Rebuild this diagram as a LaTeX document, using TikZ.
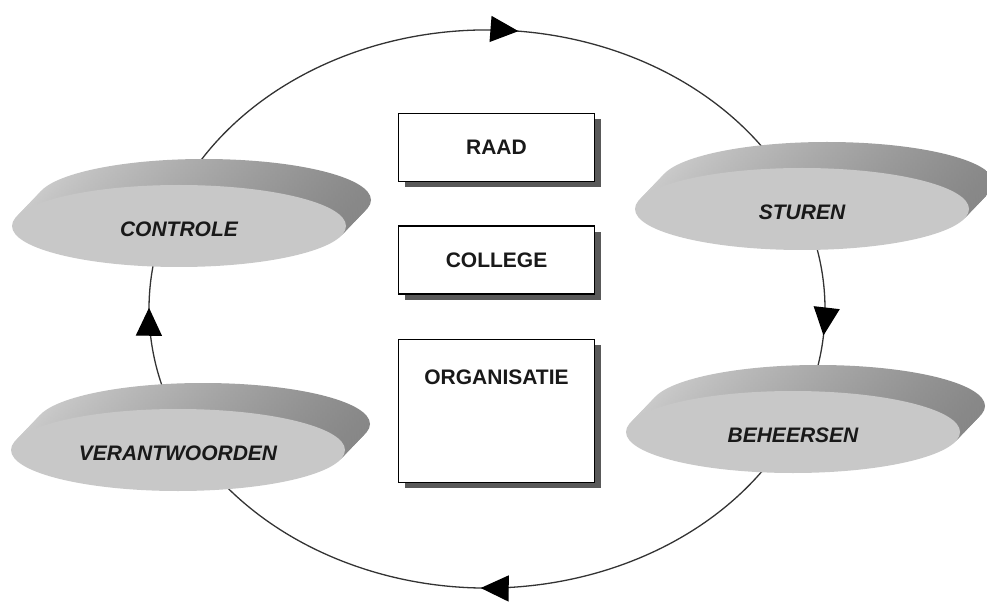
\documentclass[tikz,border=0pt]{standalone}
\usepackage{fontspec}
\setmainfont{Liberation Sans}
\usetikzlibrary{positioning,arrows.meta,calc,shapes.geometric,shadows,decorations.markings}
\definecolor{facegray}{HTML}{C8C8C8}
\definecolor{ringcol}{HTML}{333333}

\begin{document}
\begin{tikzpicture}[
    x=1pt, y=1pt,
    diskface/.style={ellipse, fill=facegray, minimum width=334pt,
      minimum height=82pt, inner sep=0pt, text height=21pt,
      font=\fontsize{21}{25}\selectfont\bfseries\itshape, text=black!90},
    diskside/.style={left color=black!20, right color=black!47},
    orgbox/.style={rectangle, draw=black, line width=1.4pt, fill=white,
      minimum width=196pt, minimum height=68pt,
      font=\fontsize{21}{25}\selectfont\bfseries, text=black!90,
      drop shadow={shadow xshift=6pt, shadow yshift=-6pt,
      fill=black!65, opacity=1}},
    ringline/.style={line width=1.3pt, draw=ringcol},
    ringtip/.style={decoration={markings, mark=at position #1 with
      {\arrow[black]{Triangle[length=28pt, width=26pt]}}},
      postaction={decorate}},
  ]
  \useasboundingbox (0,0) rectangle (987,603);

  % cycle round the four activities
  \coordinate (ring) at (487,294);
  \foreach \from/\to/\pos in {162/21/0.55, 21/-26/0.56,
      -26/-151/0.52, -151/-198/0.625}
    \draw[ringline, ringtip=\pos] ($(ring)+(\from:338 and 279)$)
      arc[start angle=\from, end angle=\to, x radius=338, y radius=279];

  % activity disks
  \foreach \nm/\px/\py/\txt in {controle/179/377/CONTROLE,
      sturen/802/394/STUREN, beheersen/793/171/BEHEERSEN,
      verantwoorden/178/153/VERANTWOORDEN} {
    \foreach \k in {10,9,...,1}
      \shade[diskside] (\px+2.5*\k, \py+2.6*\k)
        ellipse [x radius=167, y radius=41];
    \node[diskface] (\nm) at (\px,\py) {\txt};
  }

  % bodies in the middle
  \node[orgbox] (raad) at (496.5,455.5) {RAAD};
  \node[orgbox, below=43pt of raad] (college) {COLLEGE};
  \node[orgbox, below=44pt of college, minimum height=143pt,
    inner sep=0pt, text height=45pt, text depth=97pt] (organisatie)
    {ORGANISATIE};

\end{tikzpicture}
\end{document}
